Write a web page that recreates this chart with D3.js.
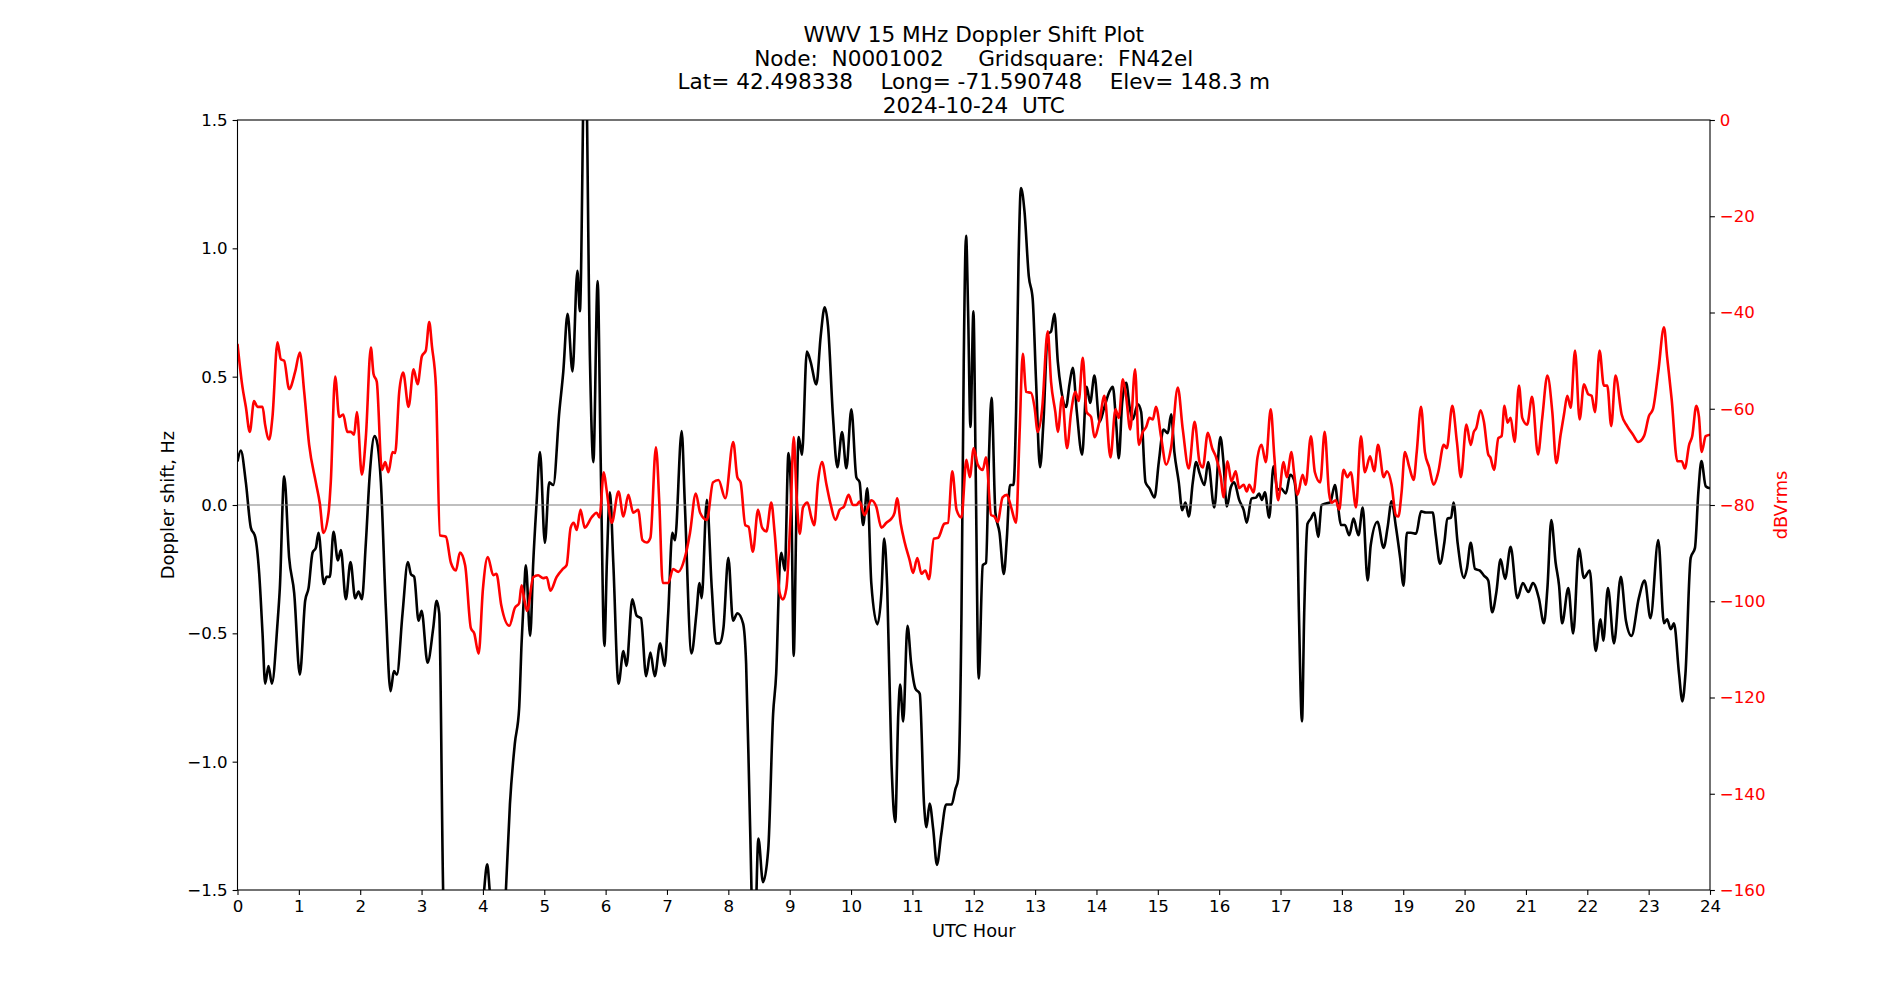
<!DOCTYPE html>
<html>
<head>
<meta charset="utf-8">
<script src="https://cdn.jsdelivr.net/npm/d3@7"></script>
<style>
  body { margin: 0; background: #fff; }
  text { font-family: "DejaVu Sans", sans-serif; }
</style>
</head>
<body>
<svg id="chart" width="1900" height="1000"></svg>
<script>
// title lines
const titleLines = [
	"WWV 15 MHz Doppler Shift Plot",
	"Node:  N0001002     Gridsquare:  FN42el",
	"Lat= 42.498338    Long= -71.590748    Elev= 148.3 m",
	"2024-10-24  UTC"
];

// tick values
const hourTicks = d3.range(0, 25);
const dopTicks = [-1.5, -1.0, -0.5, 0.0, 0.5, 1.0, 1.5];
const dbTicks = [-160, -140, -120, -100, -80, -60, -40, -20, 0];

// doppler shift (Hz), black line
const dopHour = [0.0,0.054,0.136,0.217,0.288,0.353,0.408,0.451,0.505,0.56,0.652,0.69,0.761,0.842,0.924,1.016,1.103,1.158,1.223,1.277,1.32,1.408,1.451,1.505,1.565,1.636,1.685,1.766,1.842,1.918,1.973,2.027,2.092,2.158,2.234,2.283,2.337,2.418,2.495,2.549,2.598,2.69,2.777,2.826,2.88,2.951,3.0,3.098,3.19,3.245,3.288,3.353,3.5,3.9,4.02,4.07,4.11,4.25,4.375,4.44,4.52,4.59,4.63,4.67,4.70,4.77,4.82,4.875,4.93,5.01,5.08,5.147,5.245,5.31,5.38,5.46,5.54,5.58,5.665,5.745,5.80,5.87,5.92,5.98,6.02,6.07,6.125,6.21,6.29,6.34,6.435,6.505,6.576,6.66,6.73,6.80,6.89,6.96,7.02,7.087,7.13,7.24,7.29,7.40,7.48,7.53,7.565,7.65,7.73,7.80,7.86,7.92,8.0,8.076,8.147,8.24,8.29,8.35,8.42,8.49,8.565,8.65,8.73,8.78,8.84,8.864,8.92,8.98,9.03,9.065,9.11,9.147,9.20,9.28,9.34,9.435,9.505,9.57,9.625,9.706,9.777,9.853,9.924,10.005,10.087,10.14,10.196,10.266,10.33,10.43,10.495,10.54,10.59,10.66,10.72,10.77,10.80,10.85,10.92,10.98,11.05,11.12,11.19,11.23,11.28,11.34,11.40,11.47,11.55,11.64,11.70,11.745,11.80,11.837,11.875,11.908,11.946,11.995,12.03,12.08,12.147,12.20,12.245,12.29,12.353,12.42,12.49,12.54,12.59,12.647,12.69,12.73,12.77,12.826,12.897,12.96,13.016,13.08,13.136,13.206,13.26,13.315,13.37,13.424,13.505,13.56,13.614,13.68,13.766,13.84,13.897,13.967,14.05,14.13,14.21,14.266,14.32,14.364,14.42,14.484,14.54,14.59,14.674,14.728,14.80,14.864,14.946,15.016,15.092,15.163,15.217,15.27,15.342,15.397,15.45,15.505,15.57,15.625,15.68,15.76,15.82,15.92,16.02,16.07,16.125,16.19,16.245,16.326,16.40,16.45,16.527,16.60,16.65,16.696,16.745,16.815,16.886,16.95,17.005,17.087,17.157,17.22,17.266,17.30,17.35,17.386,17.44,17.495,17.55,17.614,17.67,17.74,17.81,17.886,17.94,17.984,18.05,18.12,18.19,18.27,18.34,18.42,18.47,18.58,18.68,18.745,18.81,18.88,18.95,19.005,19.06,19.125,19.21,19.29,19.37,19.48,19.53,19.60,19.67,19.72,19.78,19.82,19.886,19.99,20.04,20.10,20.17,20.245,20.315,20.386,20.45,20.516,20.587,20.66,20.75,20.86,20.95,21.04,21.114,21.21,21.293,21.35,21.413,21.484,21.54,21.59,21.69,21.77,21.864,21.945,22.04,22.136,22.217,22.26,22.337,22.435,22.546,22.63,22.72,22.84,22.935,23.03,23.157,23.25,23.30,23.36,23.413,23.495,23.55,23.60,23.685,23.755,23.81,23.86,23.93,24.0];
const dopHz = [0.17,0.212,0.088,-0.088,-0.124,-0.265,-0.50,-0.696,-0.627,-0.696,-0.461,-0.324,0.112,-0.206,-0.343,-0.661,-0.373,-0.324,-0.186,-0.167,-0.108,-0.308,-0.28,-0.28,-0.104,-0.216,-0.176,-0.367,-0.222,-0.363,-0.337,-0.367,-0.147,0.127,0.269,0.235,0.088,-0.402,-0.725,-0.647,-0.661,-0.422,-0.222,-0.269,-0.28,-0.451,-0.412,-0.614,-0.48,-0.373,-0.422,-1.52,-2.3,-2.0,-1.5,-1.40,-1.5,-2.0,-1.5,-1.167,-0.93,-0.794,-0.539,-0.343,-0.235,-0.51,-0.225,0.01,0.206,-0.147,0.088,0.078,0.363,0.52,0.745,0.52,0.912,0.755,1.9,0.559,0.167,0.873,0.167,-0.549,-0.225,0.049,-0.225,-0.696,-0.569,-0.627,-0.367,-0.431,-0.441,-0.667,-0.575,-0.667,-0.539,-0.627,-0.422,-0.108,-0.137,0.288,0.01,-0.578,-0.422,-0.304,-0.363,0.02,-0.324,-0.539,-0.539,-0.48,-0.206,-0.451,-0.422,-0.461,-0.618,-1.206,-1.8,-1.30,-1.47,-1.343,-0.814,-0.657,-0.225,-0.186,-0.255,0.202,-0.03,-0.588,-0.03,0.265,0.196,0.598,0.559,0.47,0.657,0.77,0.696,0.343,0.147,0.284,0.143,0.373,0.108,0.088,-0.078,0.065,-0.304,-0.465,-0.343,-0.131,-0.324,-1.01,-1.235,-0.814,-0.70,-0.843,-0.471,-0.618,-0.716,-0.735,-1.167,-1.255,-1.163,-1.265,-1.402,-1.284,-1.167,-1.167,-1.108,-1.069,-0.422,0.559,1.049,0.755,0.304,0.755,0.167,-0.676,-0.235,-0.225,0.167,0.418,-0.03,-0.108,-0.269,-0.127,0.078,0.078,0.363,0.951,1.235,1.147,0.892,0.804,0.48,0.147,0.324,0.667,0.676,0.745,0.559,0.451,0.382,0.47,0.535,0.363,0.196,0.461,0.398,0.504,0.324,0.382,0.441,0.461,0.324,0.182,0.402,0.476,0.382,0.333,0.392,0.363,0.088,0.065,0.029,0.167,0.294,0.28,0.353,0.206,0.088,-0.02,0.01,-0.045,0.088,0.167,0.124,0.078,0.167,-0.01,0.265,0.167,-0.006,0.069,0.088,0.02,-0.02,-0.069,0.025,0.029,0.045,0.02,0.049,-0.049,0.151,0.059,0.065,0.045,0.118,0.098,-0.01,-0.422,-0.843,-0.422,-0.073,-0.053,-0.03,-0.124,0.0,0.006,0.01,0.078,-0.01,-0.078,-0.078,-0.118,-0.053,-0.118,-0.01,-0.294,-0.157,-0.065,-0.167,-0.088,0.014,-0.084,-0.206,-0.314,-0.108,-0.108,-0.112,-0.025,-0.029,-0.029,-0.118,-0.229,-0.147,-0.053,-0.049,0.01,-0.147,-0.284,-0.245,-0.147,-0.249,-0.255,-0.275,-0.294,-0.418,-0.343,-0.212,-0.288,-0.163,-0.363,-0.304,-0.339,-0.304,-0.363,-0.461,-0.324,-0.059,-0.225,-0.314,-0.461,-0.324,-0.50,-0.171,-0.284,-0.255,-0.569,-0.445,-0.529,-0.324,-0.539,-0.28,-0.451,-0.51,-0.363,-0.294,-0.441,-0.137,-0.461,-0.445,-0.484,-0.461,-0.657,-0.765,-0.657,-0.206,-0.167,0.049,0.171,0.073,0.065];

// signal level (dBVrms), red line
const sigHour = [0.0,0.08,0.136,0.20,0.27,0.326,0.408,0.45,0.516,0.57,0.652,0.706,0.76,0.842,0.94,1.016,1.087,1.168,1.277,1.342,1.40,1.484,1.52,1.592,1.658,1.723,1.79,1.848,1.90,1.946,2.027,2.092,2.174,2.217,2.27,2.353,2.408,2.46,2.527,2.57,2.636,2.70,2.788,2.87,2.935,3.005,3.07,3.125,3.17,3.234,3.30,3.397,3.478,3.56,3.625,3.71,3.804,3.859,3.93,4.0,4.08,4.168,4.22,4.30,4.43,4.52,4.59,4.63,4.67,4.72,4.82,4.90,4.98,5.04,5.10,5.20,5.30,5.364,5.43,5.48,5.53,5.59,5.66,5.77,5.853,5.90,5.97,6.016,6.10,6.21,6.29,6.37,6.45,6.53,6.60,6.67,6.73,6.82,6.875,6.93,7.02,7.10,7.185,7.29,7.375,7.47,7.54,7.65,7.75,7.84,7.95,8.08,8.147,8.20,8.277,8.33,8.40,8.484,8.55,8.62,8.70,8.755,8.837,8.89,8.946,9.016,9.065,9.11,9.163,9.217,9.29,9.353,9.40,9.46,9.527,9.60,9.67,9.745,9.815,9.886,9.96,10.03,10.087,10.14,10.22,10.277,10.33,10.41,10.495,10.576,10.66,10.71,10.75,10.81,10.875,10.956,11.01,11.08,11.147,11.21,11.27,11.35,11.42,11.52,11.58,11.65,11.72,11.80,11.88,11.935,12.0,12.065,12.147,12.20,12.283,12.337,12.39,12.47,12.54,12.61,12.69,12.745,12.80,12.853,12.935,12.99,13.043,13.114,13.206,13.26,13.33,13.37,13.44,13.52,13.587,13.657,13.71,13.777,13.84,13.913,13.967,14.05,14.13,14.228,14.31,14.364,14.43,14.484,14.55,14.63,14.69,14.755,14.81,14.864,14.92,14.97,15.054,15.136,15.217,15.326,15.407,15.505,15.60,15.68,15.734,15.815,15.886,15.95,16.027,16.07,16.136,16.20,16.27,16.326,16.40,16.45,16.49,16.56,16.625,16.69,16.76,16.84,16.90,16.96,17.05,17.10,17.18,17.22,17.277,17.36,17.41,17.495,17.56,17.647,17.72,17.79,17.83,17.90,17.957,18.027,18.09,18.147,18.23,18.31,18.375,18.46,18.527,18.59,18.68,18.734,18.81,18.88,18.92,18.973,19.027,19.10,19.17,19.22,19.29,19.353,19.424,19.495,19.57,19.66,19.71,19.80,19.875,19.94,20.03,20.10,20.15,20.19,20.26,20.315,20.386,20.42,20.48,20.55,20.603,20.65,20.70,20.75,20.815,20.886,20.94,21.02,21.10,21.196,21.266,21.35,21.43,21.495,21.565,21.62,21.674,21.73,21.80,21.875,21.946,22.016,22.07,22.125,22.20,22.27,22.326,22.39,22.46,22.56,22.65,22.745,22.83,22.924,23.005,23.07,23.157,23.25,23.30,23.375,23.467,23.54,23.59,23.66,23.71,23.777,23.82,23.864,23.93,24.0];
const sigDb = [-46.5,-55.4,-59.6,-64.8,-58.4,-59.6,-59.6,-63.3,-66.4,-61.7,-46.2,-49.7,-50.0,-55.9,-52.3,-48.3,-56.5,-67.5,-75.3,-79.7,-85.8,-81.6,-75.3,-53.3,-61.7,-61.2,-64.8,-64.8,-65.4,-60.7,-73.7,-65.9,-47.3,-52.8,-54.4,-72.7,-71.1,-73.2,-69.0,-69.2,-56.5,-52.5,-59.6,-51.8,-54.9,-49.1,-47.9,-42.0,-47.1,-55.4,-86.3,-86.6,-92.0,-93.6,-89.9,-92.5,-105.6,-106.7,-110.9,-97.5,-90.8,-94.6,-94.3,-100.9,-105.1,-101.4,-100.4,-96.7,-99.3,-102.0,-95.0,-94.6,-95.2,-95.0,-97.8,-95.0,-93.3,-92.5,-84.7,-83.7,-85.2,-81.0,-84.7,-82.6,-81.6,-82.6,-73.2,-76.9,-83.7,-77.2,-82.4,-77.9,-81.6,-81.0,-87.3,-87.8,-86.8,-68.0,-79.5,-96.2,-96.2,-93.3,-93.9,-91.0,-85.8,-77.6,-81.6,-83.1,-75.3,-74.8,-78.6,-66.9,-74.2,-75.3,-84.2,-84.5,-89.7,-81.0,-84.7,-85.5,-79.5,-85.8,-98.3,-99.6,-97.3,-81.6,-65.9,-77.4,-86.0,-80.5,-79.5,-82.6,-84.2,-75.3,-71.1,-75.8,-80.0,-83.1,-81.0,-80.3,-77.9,-80.0,-80.0,-79.3,-82.1,-80.5,-79.0,-80.3,-84.7,-83.7,-82.8,-81.6,-78.6,-83.9,-87.8,-91.5,-94.1,-91.0,-94.3,-93.6,-95.4,-87.0,-86.8,-83.9,-83.7,-73.0,-81.0,-82.6,-70.6,-74.2,-68.2,-71.6,-72.7,-70.1,-82.1,-82.4,-83.5,-78.4,-77.9,-80.5,-83.7,-65.9,-48.6,-56.5,-56.7,-59.6,-64.8,-60.1,-43.9,-54.4,-60.7,-64.8,-57.5,-68.2,-60.7,-56.5,-58.4,-49.4,-60.7,-61.7,-65.9,-62.5,-57.3,-70.1,-60.1,-61.9,-53.9,-57.5,-64.3,-51.8,-67.5,-64.8,-63.8,-61.9,-62.2,-59.6,-65.9,-71.6,-68.0,-55.6,-64.3,-72.4,-62.7,-71.1,-72.2,-65.0,-68.2,-70.1,-74.2,-78.4,-70.9,-75.1,-73.0,-76.5,-75.8,-77.2,-75.8,-77.4,-70.1,-67.5,-71.1,-60.1,-70.1,-79.0,-71.1,-74.2,-69.0,-73.2,-77.9,-73.7,-75.8,-65.7,-73.2,-75.3,-64.8,-77.4,-79.5,-79.0,-81.0,-72.7,-74.2,-73.2,-80.5,-65.7,-73.2,-69.9,-73.0,-67.5,-74.2,-73.0,-75.8,-82.1,-82.4,-77.4,-69.0,-72.2,-74.8,-69.0,-59.6,-69.0,-72.2,-75.8,-73.2,-67.5,-68.2,-59.4,-66.9,-74.2,-63.3,-67.5,-64.8,-64.0,-60.3,-62.7,-69.5,-70.1,-72.7,-66.1,-65.7,-59.4,-62.9,-61.9,-66.9,-55.2,-61.9,-63.3,-57.5,-69.5,-61.9,-53.1,-60.7,-71.3,-65.4,-61.2,-57.3,-59.8,-47.9,-62.2,-54.9,-57.0,-57.3,-60.7,-47.9,-55.2,-55.2,-63.6,-53.1,-61.2,-63.6,-65.4,-66.9,-65.7,-61.5,-60.1,-52.3,-43.1,-49.1,-58.0,-70.9,-70.9,-72.4,-67.5,-65.7,-59.4,-61.7,-69.0,-65.7,-65.4];

// plot box (matplotlib default subplot margins)
const axLeft = 237.5, axRight = 1710, axTop = 120, axBottom = 890;
const tickFont = 16.67;
const labelFont = 17.8;
const titleFont = 21.6;

const svg = d3.select("#chart");

const x = d3.scaleLinear().domain([0, 24]).range([axLeft, axRight]);
const yDop = d3.scaleLinear().domain([-1.5, 1.5]).range([axBottom, axTop]);
const yDb = d3.scaleLinear().domain([-160, 0]).range([axBottom, axTop]);

// clip lines to the axes box
svg.append("clipPath").attr("id", "plotClip")
	.append("rect")
	.attr("x", axLeft).attr("y", axTop)
	.attr("width", axRight - axLeft).attr("height", axBottom - axTop);

// doppler line
const dopData = dopHour.map(function(h, i) { return [h, dopHz[i]]; });
const dopLine = d3.line()
	.x(function(d) { return x(d[0]); })
	.y(function(d) { return yDop(d[1]); })
	.curve(d3.curveMonotoneX);

svg.append("path")
	.datum(dopData)
	.attr("clip-path", "url(#plotClip)")
	.attr("fill", "none")
	.attr("stroke", "#000")
	.attr("stroke-width", 2.6)
	.attr("stroke-linejoin", "round")
	.attr("d", dopLine);

// zero reference line
svg.append("line")
	.attr("x1", axLeft).attr("x2", axRight)
	.attr("y1", yDop(0)).attr("y2", yDop(0))
	.attr("stroke", "#808080")
	.attr("stroke-width", 1.1);

// signal level line on the twin axis
const sigData = sigHour.map(function(h, i) { return [h, sigDb[i]]; });
const sigLine = d3.line()
	.x(function(d) { return x(d[0]); })
	.y(function(d) { return yDb(d[1]); })
	.curve(d3.curveMonotoneX);

svg.append("path")
	.datum(sigData)
	.attr("clip-path", "url(#plotClip)")
	.attr("fill", "none")
	.attr("stroke", "#ff0000")
	.attr("stroke-width", 2.6)
	.attr("stroke-linejoin", "round")
	.attr("d", sigLine);

// axes
function styleAxis(g, color) {
	g.select(".domain").remove();
	g.selectAll(".tick line").attr("stroke", "#000").attr("stroke-width", 1.1);
	g.selectAll(".tick text")
		.attr("fill", color)
		.style("font-size", tickFont + "px")
		.style("font-family", "'DejaVu Sans', sans-serif");
}

svg.append("g")
	.attr("transform", "translate(0," + axBottom + ")")
	.call(d3.axisBottom(x).tickValues(hourTicks).tickFormat(d3.format("d")).tickSize(4.9).tickPadding(4.9))
	.call(styleAxis, "#000");

svg.append("g")
	.attr("transform", "translate(" + axLeft + ",0)")
	.call(d3.axisLeft(yDop).tickValues(dopTicks).tickFormat(d3.format(".1f")).tickSize(4.9).tickPadding(4.9))
	.call(styleAxis, "#000");

svg.append("g")
	.attr("transform", "translate(" + axRight + ",0)")
	.call(d3.axisRight(yDb).tickValues(dbTicks).tickFormat(d3.format("d")).tickSize(4.9).tickPadding(4.9))
	.call(styleAxis, "#ff0000");

// spines
svg.append("rect")
	.attr("x", axLeft).attr("y", axTop)
	.attr("width", axRight - axLeft).attr("height", axBottom - axTop)
	.attr("fill", "none")
	.attr("stroke", "#000")
	.attr("stroke-width", 1.1);

// axis labels
svg.append("text")
	.attr("x", (axLeft + axRight) / 2).attr("y", 937)
	.attr("text-anchor", "middle")
	.style("font-size", labelFont + "px")
	.text("UTC Hour");

svg.append("text")
	.attr("transform", "translate(174," + (axTop + axBottom) / 2 + ") rotate(-90)")
	.attr("text-anchor", "middle")
	.style("font-size", labelFont + "px")
	.text("Doppler shift, Hz");

svg.append("text")
	.attr("transform", "translate(1787," + (axTop + axBottom) / 2 + ") rotate(-90)")
	.attr("text-anchor", "middle")
	.attr("fill", "#ff0000")
	.style("font-size", labelFont + "px")
	.text("dBVrms");

// title block
svg.append("g")
	.selectAll("text")
	.data(titleLines)
	.join("text")
	.attr("x", (axLeft + axRight) / 2)
	.attr("y", function(d, i) { return 42 + i * 23.5; })
	.attr("text-anchor", "middle")
	.attr("xml:space", "preserve")
	.style("white-space", "pre")
	.style("font-size", titleFont + "px")
	.text(function(d) { return d; });
</script>
</body>
</html>
